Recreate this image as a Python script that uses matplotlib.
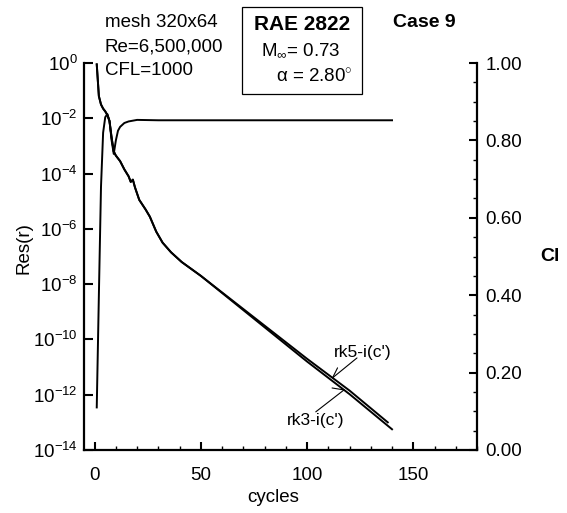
import numpy as np
import matplotlib.pyplot as plt
from matplotlib.ticker import MultipleLocator, NullLocator, FixedLocator, FixedFormatter
from matplotlib.patches import Rectangle

plt.rcParams['font.family'] = 'Liberation Sans'
plt.rcParams['mathtext.fontset'] = 'custom'
plt.rcParams['mathtext.rm'] = 'Liberation Sans'
plt.rcParams['mathtext.it'] = 'Liberation Sans:italic'
plt.rcParams['mathtext.bf'] = 'Liberation Sans:bold'

# residual history (log10 of Res) for the two schemes
res_cycles = [1, 2, 3, 4, 5, 6, 7, 8, 9, 10, 12, 14, 16, 17, 18, 19, 21, 24, 26,
              29, 32, 36, 41, 50, 65, 80, 100, 120, 138]
rk5_log = [-0.05, -1.2, -1.5, -1.65, -1.75, -1.88, -2.1, -2.7, -3.2, -3.35, -3.55,
           -3.85, -4.1, -4.3, -4.22, -4.5, -4.95, -5.3, -5.56, -6.1, -6.5, -6.85,
           -7.2, -7.7, -8.6, -9.5, -10.7, -11.85, -13.0]
rk3_cycles = res_cycles[:-1] + [140]
rk3_log = rk5_log[:24] + [-8.63, -9.56, -10.8, -11.98, -13.25]

# lift coefficient history
cl_cycles = [1, 2, 3, 4, 5, 6, 7, 8, 9, 10, 11, 12, 14, 16, 20, 30, 60, 100, 140]
cl_vals = [0.11, 0.40, 0.68, 0.82, 0.86, 0.868, 0.85, 0.80, 0.765, 0.80, 0.825,
           0.835, 0.845, 0.849, 0.853, 0.852, 0.852, 0.852, 0.852]

ytick_exp = [0, -2, -4, -6, -8, -10, -12, -14]
xticks = [0, 50, 100, 150]
cl_ticks = [0.0, 0.2, 0.4, 0.6, 0.8, 1.0]

fig = plt.figure(figsize=(5.67, 5.13), dpi=100)
ax = fig.add_axes([84 / 567, 1 - 450 / 513, 393 / 567, 387 / 513])
ax2 = ax.twinx()

lw = 1.4
ax.plot(res_cycles, 10.0 ** np.array(rk5_log), color='black', lw=lw)
ax.plot(rk3_cycles, 10.0 ** np.array(rk3_log), color='black', lw=lw)
ax2.plot(cl_cycles, cl_vals, color='black', lw=lw)

ax.set_yscale('log')
ax.set_xlim(-5, 180)
ax.set_ylim(1e-14, 1e0)
ax2.set_ylim(0, 1)

ax.yaxis.set_major_locator(FixedLocator([10.0 ** e for e in ytick_exp]))
ax.yaxis.set_major_formatter(FixedFormatter(['10$^{%d}$' % e for e in ytick_exp]))
ax.yaxis.set_minor_locator(NullLocator())
ax.xaxis.set_major_locator(FixedLocator(xticks))
ax.xaxis.set_minor_locator(MultipleLocator(10))
ax2.set_yticks(cl_ticks)
ax2.set_yticklabels(['%.2f' % v for v in cl_ticks])
ax2.yaxis.set_minor_locator(MultipleLocator(0.05))

for a in (ax, ax2):
    a.spines['top'].set_visible(False)
    for s in a.spines.values():
        s.set_linewidth(1.6)
ax.spines['right'].set_visible(False)
ax2.spines['left'].set_visible(False)
ax2.spines['bottom'].set_visible(False)

ax.tick_params(axis='y', which='major', direction='in', length=6.5, width=1.5,
               labelsize=13.5, pad=4.5, right=False)
ax.tick_params(axis='x', which='major', direction='in', length=6, width=1.5,
               labelsize=13.5, pad=12, top=False)
ax.tick_params(axis='x', which='minor', direction='in', length=3, width=1.0, top=False)
ax2.tick_params(axis='y', which='major', direction='in', length=6, width=1.5,
                labelsize=13.5, pad=6)
ax2.tick_params(axis='y', which='minor', direction='in', length=3, width=1.0)

ax.set_xlabel('cycles', fontsize=13.5)
ax.xaxis.set_label_coords(0.481, -0.10)
ax.set_ylabel('Res(r)', fontsize=13.5)
ax.yaxis.set_label_coords(-0.13, 0.522)
ax2.set_ylabel('Cl', fontsize=14, fontweight='bold', rotation=0, ha='center', va='center')
ax2.yaxis.set_label_coords(1.186, 0.5)

# leader lines for the two residual curves
def leader(label, x_tip, cyc, logs, text_xy, start_xy, stub):
    tip = (x_tip, 10.0 ** np.interp(x_tip, cyc, logs))
    ax.annotate('', xy=tip, xytext=(start_xy[0], 10.0 ** start_xy[1]),
                arrowprops=dict(arrowstyle='-', lw=0.8, color='black',
                                shrinkA=0, shrinkB=0))
    ax.annotate('', xy=tip, xytext=stub, textcoords='offset points',
                arrowprops=dict(arrowstyle='-', lw=0.8, color='black',
                                shrinkA=0, shrinkB=0))
    ax.text(text_xy[0], 10.0 ** text_xy[1], label, fontsize=12.5,
            ha='center', va='center')

leader("rk5-i(c')", 112, res_cycles, rk5_log, (126, -10.46), (123.5, -10.67), (3.6, 7.2))
leader("rk3-i(c')", 117.4, rk3_cycles, rk3_log, (104, -12.92), (104.1, -12.62), (-8.6, 1.4))

# run info and case box
for i, line in enumerate(['mesh 320x64', 'Re=6,500,000', 'CFL=1000']):
    fig.text(105 / 567, 1 - (23 + 24 * i) / 513, line, fontsize=13.5,
             ha='left', va='center')

fig.patches.append(Rectangle((241.7 / 567, 1 - 94.3 / 513), 120 / 567, 87 / 513,
                             transform=fig.transFigure, fill=False,
                             edgecolor='black', lw=0.9))
fig.text(302 / 567, 1 - 24 / 513, 'RAE 2822', fontsize=15, fontweight='bold',
         ha='center', va='center')
fig.text(301 / 567, 1 - 50 / 513, r'M$_{\infty}$= 0.73', fontsize=13.5,
         ha='center', va='center')
fig.text(353 / 567, 1 - 77 / 513, r'α = 2.80$^{\circ}$', fontsize=13.5,
         ha='right', va='center')
fig.text(424 / 567, 1 - 23 / 513, 'Case 9', fontsize=14, fontweight='bold',
         ha='center', va='center')

fig.savefig('out.png', dpi=100)
